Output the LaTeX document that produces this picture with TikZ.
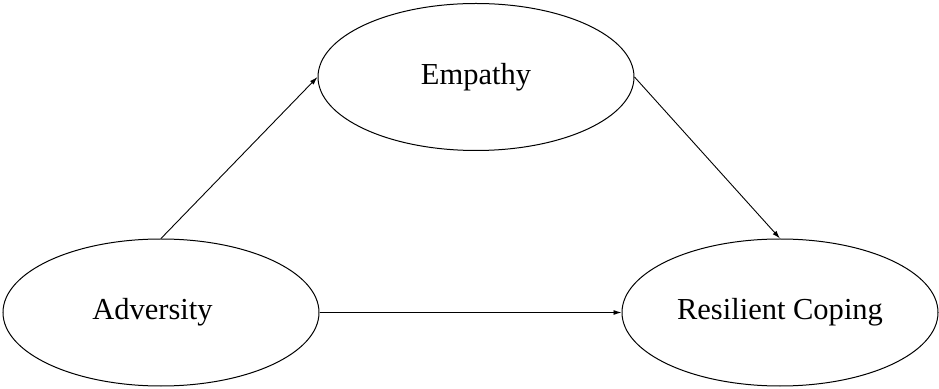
\documentclass[tikz,border=0pt]{standalone}
\usepackage{fontspec}
\setmainfont{Liberation Serif}
\usetikzlibrary{shapes.geometric,arrows.meta}
\begin{document}
\begin{tikzpicture}[x=1pt,y=1pt,
  var/.style={draw, ellipse, line width=1pt, inner sep=0pt,
    minimum width=316pt, minimum height=147pt, font=\fontsize{30.5}{36}\selectfont},
  conn/.style={line width=0.9pt, -{Latex[length=8pt,width=5pt]}}]
\useasboundingbox (0,0) rectangle (939,388);
\node[var] (adv) at (161,75.5) {\hspace*{-17pt}Adversity};
\node[var] (emp) at (476,311) {Empathy};
\node[var] (res) at (780,75.5) {Resilient Coping};
\draw[conn] (adv.north) -- (emp.west);
\draw[conn] (emp.east) -- (res.north);
\draw[conn] (adv.east) -- (res.west);
\end{tikzpicture}
\end{document}
